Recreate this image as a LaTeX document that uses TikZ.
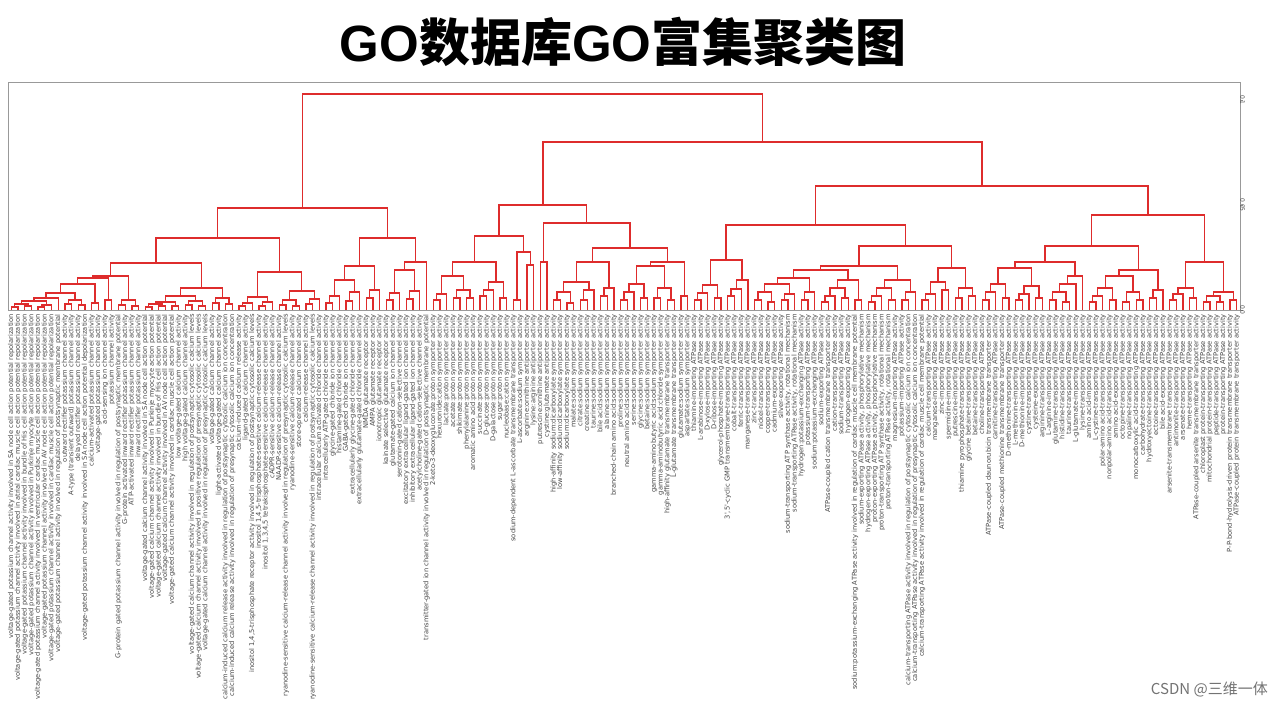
\documentclass[tikz,border=0pt]{standalone}
\usepackage{fontspec}
\usetikzlibrary{calc}
\newfontfamily\labfont{DejaVu Sans}
\newfontfamily\latfont{Liberation Sans}
\newfontfamily\cjkfont{Noto Sans CJK SC}
\definecolor{denred}{RGB}{222,44,44}
\tikzset{
  den/.style={draw=denred,line width=1.3pt},
  lab/.style={font=\labfont\fontsize{6.7}{7}\selectfont,rotate=90,anchor=east,inner sep=0pt,text=black!72},
  axisbox/.style={draw=black!40,line width=0.8pt},
  ticklab/.style={font=\labfont\fontsize{6}{6}\selectfont,rotate=-90,anchor=north,inner sep=0pt,text=black!70}
}
\newcommand\mrg[4]{%
  \path let \p1=(#2),\p2=(#3) in ({(\x1+\x2)/2},{-#4pt}) coordinate (#1);
  \draw[den] (#2) |- (#1) -| (#3);}
\newcommand\lab[2]{\node[lab] (t#1) at ([yshift=-4pt]l#1) {#2};}
\begin{document}
\begin{tikzpicture}[x=1pt,y=-1pt]
\fill[white] (0,0) rectangle (1280,708);
\useasboundingbox (0,0) rectangle (1280,708);
% title
\node (title) at (623,42) {\bfseries\fontsize{51}{53}\selectfont\latfont GO\cjkfont 数据库\latfont GO\cjkfont 富集聚类图};
% axis box
\draw[axisbox] (8,82) rectangle (1240,310);
\coordinate (tk1) at (1240,100);
\coordinate (tk2) at (1240,205);
\coordinate (tk3) at (1240,310);
\foreach \t/\s in {tk1/0.1,tk2/0.05,tk3/0.0}{
  \draw[black!45,line width=0.6pt] (\t) -- ++(3,0) coordinate (\t e);
  \node[ticklab] at ([xshift=2pt]\t e) {\s};
}
% leaves
\foreach \i in {0,...,183}{\coordinate (l\i) at ({8+(\i+0.5)*6.6957},310);}
% ---------- cluster A ----------
\mrg{a1}{l0}{l1}{307}\mrg{a2}{l2}{l3}{306}\mrg{a3}{a1}{a2}{304}
\mrg{a4}{l4}{l5}{307}\mrg{a5}{a4}{l6}{305}\mrg{a6}{a3}{a5}{301}
\mrg{a7}{a6}{l7}{298}\mrg{a8}{l8}{l9}{304}\mrg{a9}{l10}{l11}{305}
\mrg{a10}{a8}{a9}{300}\mrg{a11}{a7}{a10}{293}\mrg{a12}{l12}{l13}{303}
\mrg{a13}{a11}{a12}{284}\mrg{a14}{l14}{l15}{300}\mrg{a15}{a13}{a14}{278}
\mrg{a16}{l16}{l17}{305}\mrg{a17}{l18}{l19}{306}\mrg{a18}{a16}{a17}{300}
\mrg{a19}{a15}{a18}{276}
\mrg{b1}{l20}{l21}{307}\mrg{b2}{l22}{l23}{306}\mrg{b3}{b1}{b2}{304}
\mrg{b4}{l24}{l25}{306}\mrg{b5}{b3}{b4}{302}\mrg{b6}{l26}{l27}{305}
\mrg{b7}{l28}{l29}{306}\mrg{b8}{b6}{b7}{301}\mrg{b9}{b5}{b8}{296}
\mrg{b10}{l30}{l31}{303}\mrg{b11}{l32}{l33}{304}\mrg{b12}{b10}{b11}{298}
\mrg{b13}{b9}{b12}{288}
\mrg{A1}{a19}{b13}{263}
\mrg{c1}{l34}{l35}{306}\mrg{c2}{c1}{l36}{303}\mrg{c3}{l37}{l38}{306}
\mrg{c4}{c3}{l39}{302}\mrg{c5}{c2}{c4}{297}\mrg{c6}{l40}{l41}{305}
\mrg{c7}{l42}{l43}{306}\mrg{c8}{c6}{c7}{300}\mrg{c9}{l44}{l45}{304}
\mrg{c10}{c9}{l46}{299}\mrg{c11}{c8}{c10}{291}
\mrg{A2}{c5}{c11}{272}
\mrg{A}{A1}{A2}{238}
% ---------- cluster B ----------
\mrg{d1}{l47}{l48}{303}\mrg{d2}{d1}{l49}{296}\mrg{d3}{l50}{l51}{301}
\mrg{d4}{d3}{l52}{292}\mrg{d5}{d2}{d4}{280}\mrg{d6}{l53}{l54}{298}
\mrg{d7}{d6}{l55}{290}\mrg{B1}{d5}{d7}{266}
\mrg{e1}{l56}{l57}{300}\mrg{e2}{e1}{l58}{293}\mrg{e3}{l59}{l60}{299}
\mrg{e4}{e3}{l61}{291}\mrg{e5}{e2}{e4}{270}\mrg{B2}{e5}{l62}{262}
\mrg{B}{B1}{B2}{238}
\mrg{AB}{A}{B}{208}
% ---------- cluster C ----------
\mrg{f1}{l63}{l64}{300}\mrg{f2}{f1}{l65}{294}\mrg{f3}{l66}{l67}{298}
\mrg{f4}{l68}{l69}{298}\mrg{f5}{f3}{f4}{290}\mrg{f6}{f2}{f5}{276}
\mrg{f7}{l70}{l71}{296}\mrg{f8}{f7}{l72}{290}\mrg{f9}{l73}{l74}{298}
\mrg{f10}{f8}{f9}{282}\mrg{C1a}{f6}{f10}{262}
\mrg{f11}{l75}{l76}{300}\mrg{f12}{l77}{l78}{265}\mrg{C1b}{f11}{f12}{252}
\mrg{C1}{C1a}{C1b}{236}
\mrg{g1}{l79}{l80}{262}
\mrg{h1}{l81}{l82}{300}\mrg{h2}{l83}{l84}{303}\mrg{h3}{h1}{h2}{292}
\mrg{h4}{l85}{l86}{300}\mrg{h5}{h4}{l87}{290}\mrg{h6}{h3}{h5}{282}
\mrg{h7}{l88}{l89}{296}\mrg{h8}{h7}{l90}{288}\mrg{g2}{h6}{h8}{262}
\mrg{i1}{l91}{l92}{300}\mrg{i2}{i1}{l93}{292}\mrg{i3}{l94}{l95}{298}
\mrg{i4}{i2}{i3}{284}\mrg{i5}{l96}{l97}{298}\mrg{i6}{l98}{l99}{300}
\mrg{i7}{i5}{i6}{288}\mrg{i8}{i4}{i7}{266}\mrg{i9}{l100}{l101}{296}
\mrg{g3}{i8}{i9}{262}
\mrg{g23}{g2}{g3}{248}
\mrg{C2}{g1}{g23}{223}
\mrg{C}{C1}{C2}{205}
% ---------- cluster D ----------
\mrg{j1}{l102}{l103}{300}\mrg{j2}{j1}{l104}{293}\mrg{j3}{l105}{l106}{298}
\mrg{j4}{j2}{j3}{285}\mrg{j5}{l107}{l108}{296}\mrg{j6}{j5}{l109}{289}
\mrg{j7}{j6}{l110}{280}\mrg{D1}{j4}{j7}{260}
\mrg{k1}{l111}{l112}{300}\mrg{k2}{l113}{l114}{302}\mrg{k3}{k1}{k2}{292}
\mrg{k4}{l115}{l116}{300}\mrg{k5}{k4}{l117}{294}\mrg{k6}{k3}{k5}{284}
\mrg{k7}{l118}{l119}{300}\mrg{k8}{k7}{l120}{292}\mrg{k9}{k6}{k8}{278}
\mrg{k10}{l121}{l122}{302}\mrg{k11}{k10}{l123}{296}\mrg{k12}{l124}{l125}{298}
\mrg{k13}{k11}{k12}{288}\mrg{k14}{l126}{l127}{300}\mrg{k15}{k13}{k14}{280}
\mrg{Da1}{k9}{k15}{270}
\mrg{k16}{l128}{l129}{302}\mrg{k17}{k16}{l130}{296}\mrg{k18}{l131}{l132}{300}
\mrg{k19}{k17}{k18}{288}\mrg{k20}{l133}{l134}{300}\mrg{k21}{k20}{l135}{292}
\mrg{k22}{k19}{k21}{280}
\mrg{Da}{Da1}{k22}{266}
\mrg{m1}{l136}{l137}{300}\mrg{m2}{m1}{l138}{294}\mrg{m3}{l139}{l140}{290}
\mrg{m4}{m2}{m3}{282}\mrg{m5}{l141}{l142}{298}\mrg{m6}{l143}{l144}{296}
\mrg{m7}{m5}{m6}{288}\mrg{Db}{m4}{m7}{268}
\mrg{D2}{Da}{Db}{246}
\mrg{D}{D1}{D2}{225}
% ---------- cluster E ----------
\mrg{n1}{l145}{l146}{300}\mrg{n2}{n1}{l147}{292}\mrg{n3}{l148}{l149}{298}
\mrg{n4}{n2}{n3}{284}\mrg{n5}{l150}{l151}{300}\mrg{n6}{n5}{l152}{294}
\mrg{n7}{l153}{l154}{298}\mrg{n8}{n6}{n7}{286}\mrg{n9}{n4}{n8}{268}
\mrg{n10}{l155}{l156}{300}\mrg{n11}{l157}{l158}{302}\mrg{n12}{n10}{n11}{292}
\mrg{n13}{n12}{l159}{284}\mrg{n14}{n13}{l160}{276}
\mrg{Ea}{n9}{n14}{262}
\mrg{o1}{l161}{l162}{302}\mrg{o2}{o1}{l163}{296}\mrg{o3}{l164}{l165}{300}
\mrg{o4}{o2}{o3}{288}\mrg{o5}{l166}{l167}{302}\mrg{o6}{l168}{l169}{300}
\mrg{o7}{o5}{o6}{292}\mrg{o8}{o4}{o7}{276}\mrg{o9}{l170}{l171}{298}
\mrg{o10}{o9}{l172}{290}\mrg{Eb}{o8}{o10}{270}
\mrg{E1}{Ea}{Eb}{246}
\mrg{p1}{l173}{l174}{300}\mrg{p2}{p1}{l175}{294}\mrg{p3}{l176}{l177}{298}
\mrg{p4}{p2}{p3}{288}\mrg{p5}{l178}{l179}{302}\mrg{p6}{l180}{l181}{302}
\mrg{p7}{p5}{p6}{296}\mrg{p8}{l182}{l183}{300}\mrg{p9}{p7}{p8}{292}
\mrg{E2}{p4}{p9}{262}
\mrg{E}{E1}{E2}{215}
\mrg{DE}{D}{E}{186}
\mrg{CDE}{C}{DE}{142}
\mrg{root}{AB}{CDE}{94}
% ---------- labels ----------
\lab{0}{voltage-gated potassium channel activity involved in SA node cell action potential repolarization}
\lab{1}{voltage-gated potassium channel activity involved in atrial cardiac muscle cell action potential repolarization}
\lab{2}{voltage-gated potassium channel activity involved in bundle of His cell action potential repolarization}
\lab{3}{voltage-gated potassium channel activity involved in Purkinje myocyte action potential repolarization}
\lab{4}{voltage-gated potassium channel activity involved in ventricular cardiac muscle cell action potential repolarization}
\lab{5}{voltage-gated potassium channel activity involved in AV node cell action potential repolarization}
\lab{6}{voltage-gated potassium channel activity involved in cardiac muscle cell action potential repolarization}
\lab{7}{voltage-gated potassium channel activity involved in regulation of postsynaptic membrane potential}
\lab{8}{outward rectifier potassium channel activity}
\lab{9}{A-type (transient outward) potassium channel activity}
\lab{10}{delayed rectifier potassium channel activity}
\lab{11}{voltage-gated potassium channel activity involved in SA node cell action potential depolarization}
\lab{12}{calcium-activated potassium channel activity}
\lab{13}{voltage-gated potassium channel activity}
\lab{14}{acid-sensing ion channel activity}
\lab{15}{potassium channel activity}
\lab{16}{G-protein gated potassium channel activity involved in regulation of postsynaptic membrane potential}
\lab{17}{G-protein activated inward rectifier potassium channel activity}
\lab{18}{ATP-activated inward rectifier potassium channel activity}
\lab{19}{inward rectifier potassium channel activity}
\lab{20}{voltage-gated calcium channel activity involved in SA node cell action potential}
\lab{21}{voltage-gated calcium channel activity involved in Purkinje myocyte action potential}
\lab{22}{voltage-gated calcium channel activity involved in bundle of His cell action potential}
\lab{23}{voltage-gated calcium channel activity involved in AV node cell action potential}
\lab{24}{voltage-gated calcium channel activity involved in cardiac muscle cell action potential}
\lab{25}{low voltage-gated calcium channel activity}
\lab{26}{high voltage-gated calcium channel activity}
\lab{27}{voltage-gated calcium channel activity involved in regulation of postsynaptic cytosolic calcium levels}
\lab{28}{voltage-gated calcium channel activity involved in positive regulation of presynaptic cytosolic calcium levels}
\lab{29}{voltage-gated calcium channel activity involved in regulation of presynaptic cytosolic calcium levels}
\lab{30}{voltage-gated calcium channel activity}
\lab{31}{light-activated voltage-gated calcium channel activity}
\lab{32}{calcium-induced calcium release activity involved in regulation of postsynaptic cytosolic calcium ion concentration}
\lab{33}{calcium-induced calcium release activity involved in regulation of presynaptic cytosolic calcium ion concentration}
\lab{34}{calcium-induced calcium release activity}
\lab{35}{ligand-gated calcium channel activity}
\lab{36}{inositol 1,4,5-trisphosphate receptor activity involved in regulation of postsynaptic cytosolic calcium levels}
\lab{37}{inositol 1,4,5-trisphosphate-sensitive calcium-release channel activity}
\lab{38}{inositol 1,3,4,5 tetrakisphosphate-sensitive calcium-release channel activity}
\lab{39}{cADPR-sensitive calcium-release channel activity}
\lab{40}{NAADP-sensitive calcium-release channel activity}
\lab{41}{ryanodine-sensitive calcium-release channel activity involved in regulation of presynaptic cytosolic calcium levels}
\lab{42}{ryanodine-sensitive calcium-release channel activity}
\lab{43}{store-operated calcium channel activity}
\lab{44}{calcium-release channel activity}
\lab{45}{ryanodine-sensitive calcium-release channel activity involved in regulation of postsynaptic cytosolic calcium levels}
\lab{46}{intracellular calcium activated chloride channel activity}
\lab{47}{intracellularly ATP-gated chloride channel activity}
\lab{48}{glycine-gated chloride ion channel activity}
\lab{49}{histamine-gated chloride channel activity}
\lab{50}{GABA-gated chloride ion channel activity}
\lab{51}{extracellularly glycine-gated chloride channel activity}
\lab{52}{extracellularly glutamate-gated chloride channel activity}
\lab{53}{NMDA glutamate receptor activity}
\lab{54}{AMPA glutamate receptor activity}
\lab{55}{ionotropic glutamate receptor activity}
\lab{56}{kainate selective glutamate receptor activity}
\lab{57}{glutamate-gated calcium ion channel activity}
\lab{58}{serotonin-gated cation-selective channel activity}
\lab{59}{excitatory extracellular ligand-gated ion channel activity}
\lab{60}{inhibitory extracellular ligand-gated ion channel activity}
\lab{61}{acetylcholine-gated cation-selective channel activity}
\lab{62}{transmitter-gated ion channel activity involved in regulation of postsynaptic membrane potential}
\lab{63}{2-keto-3-deoxygluconate:proton symporter activity}
\lab{64}{hexuronide:cation symporter activity}
\lab{65}{lactate:proton symporter activity}
\lab{66}{acetate:proton symporter activity}
\lab{67}{shikimate:proton symporter activity}
\lab{68}{phenylalanine:proton symporter activity}
\lab{69}{aromatic amino acid:proton symporter activity}
\lab{70}{succinate:proton symporter activity}
\lab{71}{D-glucose:proton symporter activity}
\lab{72}{D-galactose:proton symporter activity}
\lab{73}{sugar:proton symporter activity}
\lab{74}{nucleobase:cation symporter activity}
\lab{75}{sodium-dependent L-ascorbate transmembrane transporter activity}
\lab{76}{L-ascorbate:sodium symporter activity}
\lab{77}{arginine:ornithine antiporter activity}
\lab{78}{lysine:arginine antiporter activity}
\lab{79}{putrescine:ornithine antiporter activity}
\lab{80}{cystine:glutamate antiporter activity}
\lab{81}{high-affinity sodium:dicarboxylate symporter activity}
\lab{82}{low-affinity sodium:dicarboxylate symporter activity}
\lab{83}{sodium:dicarboxylate symporter activity}
\lab{84}{malate:sodium symporter activity}
\lab{85}{citrate:sodium symporter activity}
\lab{86}{creatine:sodium symporter activity}
\lab{87}{taurine:sodium symporter activity}
\lab{88}{bile acid:sodium symporter activity}
\lab{89}{alanine:sodium symporter activity}
\lab{90}{branched-chain amino acid:sodium symporter activity}
\lab{91}{proline:sodium symporter activity}
\lab{92}{neutral amino acid:sodium symporter activity}
\lab{93}{serine:sodium symporter activity}
\lab{94}{glycine:sodium symporter activity}
\lab{95}{betaine:sodium symporter activity}
\lab{96}{gamma-aminobutyric acid:sodium symporter activity}
\lab{97}{gamma-aminobutyric acid:chloride symporter activity}
\lab{98}{high-affinity glutamate transmembrane transporter activity}
\lab{99}{L-glutamate transmembrane transporter activity}
\lab{100}{glutamate:sodium symporter activity}
\lab{101}{aspartate:sodium symporter activity}
\lab{102}{thiamine-importing ATPase activity}
\lab{103}{L-arabinose-importing ATPase activity}
\lab{104}{D-xylose-importing ATPase activity}
\lab{105}{D-ribose-importing ATPase activity}
\lab{106}{glycerol-phosphate-importing ATPase activity}
\lab{107}{3',5'-cyclic GMP transmembrane-transporting ATPase activity}
\lab{108}{cobalt-transporting ATPase activity}
\lab{109}{ferric-transporting ATPase activity}
\lab{110}{manganese-transporting ATPase activity}
\lab{111}{zinc-transporting ATPase activity}
\lab{112}{nickel-transporting ATPase activity}
\lab{113}{copper-transporting ATPase activity}
\lab{114}{cadmium-exporting ATPase activity}
\lab{115}{silver-exporting ATPase activity}
\lab{116}{sodium-transporting ATP synthase activity, rotational mechanism}
\lab{117}{sodium-transporting ATPase activity, rotational mechanism}
\lab{118}{hydrogen:potassium-exchanging ATPase activity}
\lab{119}{potassium-transporting ATPase activity}
\lab{120}{sodium:potassium-exchanging ATPase activity}
\lab{121}{sodium-exporting ATPase activity}
\lab{122}{ATPase-coupled cation transmembrane transporter activity}
\lab{123}{cation-transporting ATPase activity}
\lab{124}{sodium-transporting ATPase activity}
\lab{125}{hydrogen-exporting ATPase activity}
\lab{126}{sodium:potassium-exchanging ATPase activity involved in regulation of cardiac muscle cell membrane potential}
\lab{127}{sodium-exporting ATPase activity, phosphorylative mechanism}
\lab{128}{hydrogen-exporting ATPase activity, phosphorylative mechanism}
\lab{129}{proton-exporting ATPase activity, phosphorylative mechanism}
\lab{130}{proton-transporting ATP synthase activity, rotational mechanism}
\lab{131}{proton-transporting ATPase activity, rotational mechanism}
\lab{132}{magnesium-importing ATPase activity}
\lab{133}{potassium-importing ATPase activity}
\lab{134}{calcium-transporting ATPase activity involved in regulation of postsynaptic cytosolic calcium ion concentration}
\lab{135}{calcium-transporting ATPase activity involved in regulation of presynaptic cytosolic calcium ion concentration}
\lab{136}{calcium-transporting ATPase activity involved in regulation of cardiac muscle cell membrane potential}
\lab{137}{calcium-transporting ATPase activity}
\lab{138}{manganese-importing ATPase activity}
\lab{139}{zinc-importing ATPase activity}
\lab{140}{spermidine-importing ATPase activity}
\lab{141}{putrescine-importing ATPase activity}
\lab{142}{thiamine pyrophosphate-transporting ATPase activity}
\lab{143}{glycine betaine-transporting ATPase activity}
\lab{144}{betaine-transporting ATPase activity}
\lab{145}{choline-transporting ATPase activity}
\lab{146}{ATPase-coupled daunorubicin transmembrane transporter activity}
\lab{147}{carnitine-transporting ATPase activity}
\lab{148}{ATPase-coupled methionine transmembrane transporter activity}
\lab{149}{D-methionine-transporting ATPase activity}
\lab{150}{L-methionine-importing ATPase activity}
\lab{151}{D-methionine-importing ATPase activity}
\lab{152}{cystine-transporting ATPase activity}
\lab{153}{cysteine-exporting ATPase activity}
\lab{154}{arginine-transporting ATPase activity}
\lab{155}{L-arginine-importing ATPase activity}
\lab{156}{glutamine-transporting ATPase activity}
\lab{157}{histidine-transporting ATPase activity}
\lab{158}{taurine-transporting ATPase activity}
\lab{159}{L-glutamate-importing ATPase activity}
\lab{160}{lysine-transporting ATPase activity}
\lab{161}{amino acid-importing ATPase activity}
\lab{162}{L-cystine-transporting ATPase activity}
\lab{163}{polar-amino acid-transporting ATPase activity}
\lab{164}{nonpolar-amino acid-transporting ATPase activity}
\lab{165}{amino acid-exporting ATPase activity}
\lab{166}{octopine-transporting ATPase activity}
\lab{167}{nopaline-transporting ATPase activity}
\lab{168}{monocarboxylic acid-transporting ATPase activity}
\lab{169}{carbohydrate-transporting ATPase activity}
\lab{170}{hydroxyectoine-transporting ATPase activity}
\lab{171}{ectoine-transporting ATPase activity}
\lab{172}{bile acid-exporting ATPase activity}
\lab{173}{arsenite-transmembrane transporting ATPase activity}
\lab{174}{antimonite-transporting ATPase activity}
\lab{175}{arsenate-transporting ATPase activity}
\lab{176}{heme-transporting ATPase activity}
\lab{177}{ATPase-coupled arsenite transmembrane transporter activity}
\lab{178}{chloroplast protein-transporting ATPase activity}
\lab{179}{mitochondrial protein-transporting ATPase activity}
\lab{180}{peptide-transporting ATPase activity}
\lab{181}{protein-transporting ATPase activity}
\lab{182}{P-P-bond-hydrolysis-driven protein transmembrane transporter activity}
\lab{183}{ATPase-coupled protein transmembrane transporter activity}
% watermark
\node[anchor=east,inner sep=0pt,text=black!55,font=\cjkfont\fontsize{15}{16}\selectfont] (wm) at (1268,690) {CSDN @三维一体};
\end{tikzpicture}
\end{document}
